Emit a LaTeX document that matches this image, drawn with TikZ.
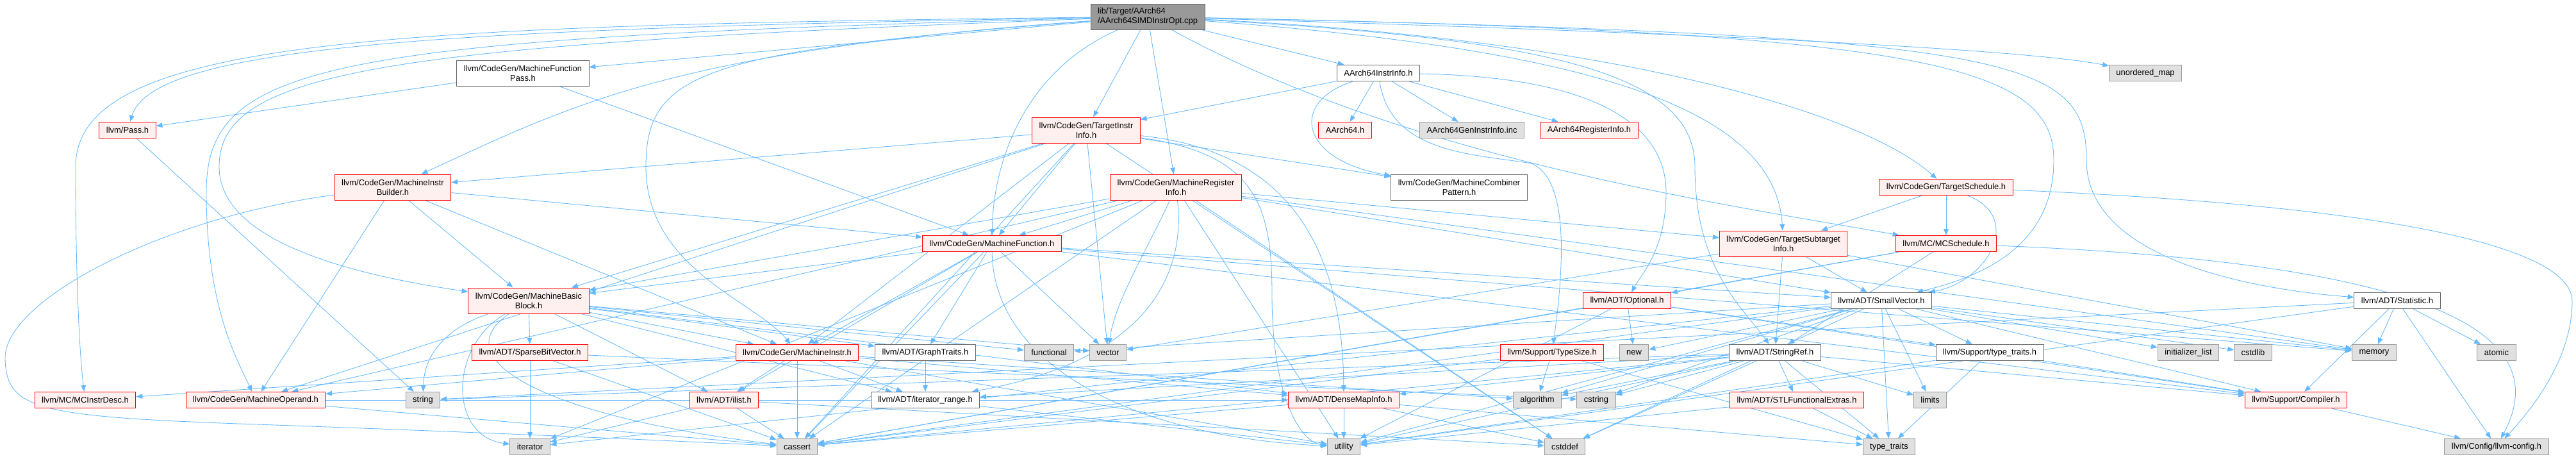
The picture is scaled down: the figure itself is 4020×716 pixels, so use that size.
\documentclass[tikz,border=0pt]{standalone}
\usepackage{fontspec}
\setmainfont{Liberation Sans}
\usepackage{xcolor}
\usepackage{tikz}
\usetikzlibrary{arrows.meta,backgrounds}

\definecolor{edgeblue}{HTML}{63B8FF}
\definecolor{truncline}{HTML}{FF0000}
\definecolor{truncfill}{HTML}{FFF0F0}
\definecolor{sysfill}{HTML}{E0E0E0}
\definecolor{sysline}{HTML}{999999}
\definecolor{hdrline}{HTML}{666666}
\definecolor{rootfill}{HTML}{999999}

\begin{document}
\begin{tikzpicture}[
  x=0.025cm, y=-0.025cm,
  hbox/.style={draw,line width=0.7pt,align=center,inner xsep=0.275cm,inner ysep=4.4pt,minimum height=0.63cm,font=\fontsize{9.2}{10.6}\selectfont},
  tall/.style={minimum height=1.0cm},
  redfile/.style={hbox,draw=truncline,fill=truncfill},
  sysfile/.style={hbox,draw=sysline,fill=sysfill},
  hdrfile/.style={hbox,draw=hdrline,fill=white},
  srcfile/.style={hbox,tall,draw=hdrline,fill=rootfill,align=left},
  inc/.style={draw=edgeblue,line width=0.6pt,-{Triangle[length=7pt,width=5.5pt]}}
]
  \useasboundingbox (0,0) rectangle (4020,716);
  \node[srcfile] (root) at (1791,26) {lib/Target/AArch64\\/AArch64SIMDInstrOpt.cpp};

  \node[hdrfile,tall] (mfp) at (816,114) {llvm/CodeGen/MachineFunction\\Pass.h};
  \node[hdrfile] (a64ii) at (2151,114) {AArch64InstrInfo.h};
  \node[sysfile] (umap) at (3348,114) {unordered\_map};

  \node[redfile] (pass) at (199,203) {llvm/Pass.h};
  \node[redfile,tall] (tii) at (1695,203) {llvm/CodeGen/TargetInstr\\Info.h};
  \node[redfile] (a64) at (2099,203) {AArch64.h};
  \node[sysfile] (geninc) at (2297,203) {AArch64GenInstrInfo.inc};
  \node[redfile] (a64ri) at (2480,203) {AArch64RegisterInfo.h};

  \node[redfile,tall] (mib) at (613,292) {llvm/CodeGen/MachineInstr\\Builder.h};
  \node[redfile,tall] (mri) at (1835,292) {llvm/CodeGen/MachineRegister\\Info.h};
  \node[hdrfile,tall] (mcp) at (2277,292) {llvm/CodeGen/MachineCombiner\\Pattern.h};
  \node[redfile] (tsched) at (3037,292) {llvm/CodeGen/TargetSchedule.h};

  \node[redfile] (mf) at (1548,380) {llvm/CodeGen/MachineFunction.h};
  \node[redfile,tall] (tsi) at (2783,380) {llvm/CodeGen/TargetSubtarget\\Info.h};
  \node[redfile] (mcsched) at (3037,380) {llvm/MC/MCSchedule.h};

  \node[redfile,tall] (mbb) at (825,469) {llvm/CodeGen/MachineBasic\\Block.h};
  \node[redfile] (opt) at (2539,469) {llvm/ADT/Optional.h};
  \node[hdrfile] (svec) at (2936,469) {llvm/ADT/SmallVector.h};
  \node[hdrfile] (stat) at (3741,469) {llvm/ADT/Statistic.h};

  \node[redfile] (sbv) at (827,550) {llvm/ADT/SparseBitVector.h};
  \node[redfile] (mi) at (1244,550) {llvm/CodeGen/MachineInstr.h};
  \node[hdrfile] (graph) at (1444,550) {llvm/ADT/GraphTraits.h};
  \node[sysfile] (func) at (1637,550) {functional};
  \node[sysfile] (vec) at (1729,550) {vector};
  \node[redfile] (tsize) at (2422,550) {llvm/Support/TypeSize.h};
  \node[sysfile] (new) at (2550,550) {new};
  \node[hdrfile] (sref) at (2770,550) {llvm/ADT/StringRef.h};
  \node[hdrfile] (stt) at (3105,550) {llvm/Support/type\_traits.h};
  \node[sysfile] (initl) at (3415,550) {initializer\_list};
  \node[sysfile] (cstdlib) at (3516,550) {cstdlib};
  \node[sysfile] (memory) at (3705,550) {memory};
  \node[sysfile] (atomic) at (3896,550) {atomic};

  \node[redfile] (mcid) at (133,624) {llvm/MC/MCInstrDesc.h};
  \node[redfile] (mop) at (399,624) {llvm/CodeGen/MachineOperand.h};
  \node[sysfile] (str) at (660,624) {string};
  \node[redfile] (ilist) at (1130,624) {llvm/ADT/ilist.h};
  \node[hdrfile] (itrange) at (1444,624) {llvm/ADT/iterator\_range.h};
  \node[redfile] (dmi) at (2097,624) {llvm/ADT/DenseMapInfo.h};
  \node[sysfile] (algo) at (2399,624) {algorithm};
  \node[sysfile] (cstring) at (2491,624) {cstring};
  \node[redfile] (stlfe) at (2804,624) {llvm/ADT/STLFunctionalExtras.h};
  \node[sysfile] (limits) at (3012,624) {limits};
  \node[redfile] (compiler) at (3583,624) {llvm/Support/Compiler.h};

  \node[sysfile] (iter) at (827,697) {iterator};
  \node[sysfile] (cassert) at (1244,697) {cassert};
  \node[sysfile] (util) at (2097,697) {utility};
  \node[sysfile] (cstddef) at (2442,697) {cstddef};
  \node[sysfile] (tt) at (2948,697) {type\_traits};
  \node[sysfile] (config) at (3896,697) {llvm/Config/llvm-config.h};

  \begin{scope}[on background layer]
  \foreach \a/\b in {root/mfp,root/tii,root/mri,root/a64ii,
      a64ii/a64,a64ii/geninc,a64ii/a64ri,a64ii/tii,
      mfp/pass,mfp/mf,pass/str,
      mib/mop,mib/mbb,mib/mi,mib/mf,
      tii/mf,tii/vec,tii/mib,tii/mbb,tii/mi,tii/mop,tii/mcp,tii/cassert,tii/cstddef,
      mri/mf,mri/mbb,mri/mop,mri/svec,mri/tsi,mri/cassert,mri/cstddef,mri/iter,mri/memory,mri/util,
      mf/mbb,mf/mi,mf/graph,mf/vec,mf/svec,mf/ilist,mf/cassert,mf/memory,mf/compiler,
      mbb/sbv,mbb/ilist,mbb/mi,mbb/graph,mbb/func,mbb/vec,mbb/itrange,mbb/dmi,
      mi/dmi,mi/ilist,mi/itrange,mi/mop,mi/mcid,mi/algo,mi/cassert,mi/util,
      mop/dmi,mop/cassert,sbv/iter,sbv/cassert,sbv/cstring,
      ilist/cassert,ilist/iter,ilist/cstddef,graph/itrange,itrange/util,
      tsched/tsi,tsched/mcsched,mcsched/opt,mcsched/sref,mcsched/cassert,
      tsi/sref,tsi/svec,tsi/vec,tsi/memory}
    \draw[inc] (\a) -- (\b);
  \foreach \b in {compiler,stt,algo,cassert,cstddef,cstdlib,cstring,func,initl,iter,limits,memory,new,tt,util}
    \draw[inc] (svec) -- (\b);
  \foreach \b in {compiler,dmi,stlfe,itrange,algo,cassert,cstddef,cstring,limits,str,tt,util}
    \draw[inc] (sref) -- (\b);
  \foreach \a/\b in {stat/config,stat/compiler,stat/atomic,stat/memory,stat/str,stat/util,
      opt/new,opt/util,opt/compiler,opt/stt,opt/cassert,
      tsize/algo,tsize/cassert,tsize/tt,
      dmi/util,dmi/cstddef,dmi/cassert,dmi/tt,
      stlfe/tt,stlfe/util,stt/tt,stt/compiler,stt/util,compiler/config}
    \draw[inc] (\a) -- (\b);

  \draw[inc] (root) .. controls (600,40) and (118,60) .. (118,260) .. controls (118,450) and (125,560) .. (mcid);
  \draw[inc] (root) .. controls (700,45) and (240,70) .. (pass);
  \draw[inc] (root) .. controls (500,60) and (322,100) .. (322,300) .. controls (322,480) and (370,560) .. (mop);
  \draw[inc] (root) .. controls (600,70) and (342,110) .. (342,260) .. controls (342,380) and (560,430) .. (mbb);
  \draw[inc] (root) .. controls (1050,80) and (900,160) .. (mib);
  \draw[inc] (root) .. controls (1100,80) and (1008,110) .. (1008,260) .. controls (1008,420) and (1180,470) .. (mi);
  \draw[inc] (root) .. controls (1600,110) and (1550,250) .. (mf);
  \draw[inc] (root) .. controls (2500,60) and (2900,170) .. (tsched);
  \draw[inc] (root) .. controls (2450,75) and (2770,160) .. (tsi);
  \draw[inc] (root) .. controls (2400,60) and (2645,110) .. (2645,260) .. controls (2645,420) and (2720,480) .. (sref);
  \draw[inc] (root) .. controls (3000,50) and (3205,100) .. (3205,250) .. controls (3205,380) and (3100,430) .. (svec);
  \draw[inc] (root) .. controls (3150,55) and (3256,90) .. (3256,250) .. controls (3256,400) and (3500,450) .. (stat);
  \draw[inc] (root) .. controls (2600,50) and (3150,75) .. (umap);
  \draw[inc] (root) .. controls (2200,250) and (2700,320) .. (mcsched);
  \draw[inc] (a64ii) .. controls (2010,160) and (2030,250) .. (mcp);
  \draw[inc] (a64ii) .. controls (2500,120) and (2600,200) .. (2600,300) .. controls (2600,390) and (2560,430) .. (opt);
  \draw[inc] (a64ii) .. controls (2170,240) and (2300,240) .. (2390,255) .. controls (2450,280) and (2440,420) .. (tsize);
  \draw[inc] (mib) .. controls (250,340) and (5,470) .. (8,560) .. controls (10,640) and (60,650) .. (400,662) .. controls (800,676) and (1100,690) .. (cassert);
  \draw[inc] (tii) .. controls (1960,230) and (2095,330) .. (dmi);
  \draw[inc] (tii) .. controls (1960,240) and (1985,320) .. (1985,460) .. controls (1985,620) and (2030,690) .. (util);
  \draw[inc] (mri) .. controls (1850,420) and (1800,560) .. (itrange);
  \draw[inc] (mri) .. controls (1790,390) and (1740,470) .. (vec);
  \draw[inc] (mf) .. controls (1550,560) and (1750,680) .. (util);
  \draw[inc] (mbb) .. controls (700,510) and (662,550) .. (str);
  \draw[inc] (mbb) .. controls (700,540) and (700,680) .. (iter);
  \draw[inc] (mbb) .. controls (690,560) and (850,650) .. (cassert);
  \draw[inc] (tsched) .. controls (3160,340) and (3100,440) .. (svec);
  \draw[inc] (tsched) .. controls (3700,320) and (4014,380) .. (4014,470) .. controls (4014,560) and (3950,640) .. (config);
  \draw[inc] (mcsched) .. controls (3800,410) and (3990,520) .. (config);
  \end{scope}
\end{tikzpicture}
\end{document}
